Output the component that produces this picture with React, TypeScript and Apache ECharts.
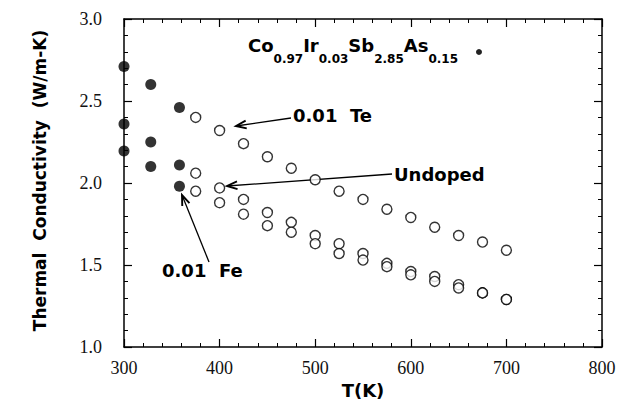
import React, { useEffect, useRef } from "react";
import * as echarts from "echarts";

// Temperatures (K)
const tempsFilled = [300, 328, 358];
const tempsOpen = [375, 400, 425, 450, 475, 500, 525, 550, 575, 600, 625, 650, 675, 700];

// Thermal conductivity (W/m-K) – filled symbols (low-T measurement)
const teFilled = [2.71, 2.6, 2.46];
const undopedFilled = [2.36, 2.25, 2.11];
const feFilled = [2.195, 2.1, 1.98];

// Thermal conductivity (W/m-K) – open symbols (high-T measurement)
const teOpen = [2.4, 2.32, 2.24, 2.16, 2.09, 2.02, 1.95, 1.9, 1.84, 1.79, 1.73, 1.68, 1.64, 1.59];
const undopedOpen = [2.06, 1.97, 1.9, 1.82, 1.76, 1.68, 1.63, 1.57, 1.51, 1.46, 1.43, 1.38, 1.33, 1.29];
const feOpen = [1.95, 1.88, 1.81, 1.74, 1.7, 1.63, 1.57, 1.53, 1.49, 1.44, 1.4, 1.36, 1.33, 1.29];

// Axis ranges / tick steps
const xRange = [300, 800];
const xStep = 100;
const yRange = [1.0, 3.0];
const yStep = 0.5;

const SANS = "DejaVu Sans";
const SERIF = "Liberation Serif";
const INK = "#000";

const zip = (xs: number[], ys: number[]) => xs.map((x, i) => [x, ys[i]]);

function arrow(x1: number, y1: number, x2: number, y2: number) {
  const ang = Math.atan2(y1 - y2, x1 - x2);
  const L = 11;
  const spread = 0.36;
  const p1 = [x2 + L * Math.cos(ang + spread), y2 + L * Math.sin(ang + spread)];
  const p2 = [x2 + L * Math.cos(ang - spread), y2 + L * Math.sin(ang - spread)];
  return [
    { type: "line", shape: { x1, y1, x2, y2 }, style: { stroke: INK, lineWidth: 1.3 } },
    {
      type: "polyline",
      shape: { points: [p1, [x2, y2], p2] },
      style: { stroke: INK, lineWidth: 1.9, fill: null },
    },
  ];
}

const axisLineStyle = { color: INK, width: 1.5 };

function baseX(position: "top" | "bottom", labels: boolean) {
  return {
    type: "value",
    position,
    min: xRange[0],
    max: xRange[1],
    interval: xStep,
    axisLine: { show: true, onZero: false, lineStyle: axisLineStyle },
    axisTick: { show: true, inside: true, length: 8, lineStyle: { color: INK, width: 1.2 } },
    minorTick: { show: true, splitNumber: 5, length: 4, lineStyle: { color: INK, width: 1 } },
    splitLine: { show: false },
    minorSplitLine: { show: false },
    axisLabel: {
      show: labels,
      margin: 12,
      fontFamily: SERIF,
      fontSize: 18,
      color: "#111",
    },
  };
}

function baseY(position: "left" | "right", labels: boolean) {
  return {
    type: "value",
    position,
    min: yRange[0],
    max: yRange[1],
    interval: yStep,
    axisLine: { show: true, onZero: false, lineStyle: axisLineStyle },
    axisTick: { show: true, inside: true, length: 8, lineStyle: { color: INK, width: 1.2 } },
    minorTick: { show: true, splitNumber: 5, length: 4, lineStyle: { color: INK, width: 1 } },
    splitLine: { show: false },
    minorSplitLine: { show: false },
    axisLabel: {
      show: labels,
      margin: 22,
      fontFamily: SERIF,
      fontSize: 18,
      color: "#111",
      formatter: (v: number) => v.toFixed(1),
    },
  };
}

const filledStyle = { color: INK };
const openStyle = { color: "#fff", borderColor: INK, borderWidth: 1.4 };

function scatter(name: string, xs: number[], ys: number[], filled: boolean) {
  return {
    type: "scatter",
    name,
    xAxisIndex: 0,
    yAxisIndex: 0,
    symbol: "circle",
    symbolSize: filled ? 11 : 10,
    itemStyle: filled ? filledStyle : openStyle,
    data: zip(xs, ys),
    z: filled ? 3 : 2,
  };
}

const annotationFont = { fontFamily: SANS, fontWeight: "bold", fontSize: 18, fill: INK };

const option = {
  animation: false,
  backgroundColor: "#fff",
  grid: { left: 124, right: 18, top: 19, bottom: 61, containLabel: false },
  xAxis: [
    {
      ...baseX("bottom", true),
      name: "T(K)",
      nameLocation: "middle",
      nameGap: 24,
      nameTextStyle: { fontFamily: SANS, fontWeight: "bold", fontSize: 18, color: INK },
    },
    baseX("top", false),
  ],
  yAxis: [
    {
      ...baseY("left", true),
      name: "Thermal  Conductivity  (W/m-K)",
      nameLocation: "middle",
      nameGap: 76,
      nameRotate: 90,
      nameTextStyle: {
        fontFamily: SANS,
        fontWeight: "bold",
        fontSize: 17,
        color: INK,
        padding: [0, 0, 0, 5],
      },
    },
    baseY("right", false),
  ],
  series: [
    scatter("0.01 Te (open)", tempsOpen, teOpen, false),
    scatter("Undoped (open)", tempsOpen, undopedOpen, false),
    scatter("0.01 Fe (open)", tempsOpen, feOpen, false),
    scatter("0.01 Te", tempsFilled, teFilled, true),
    scatter("Undoped", tempsFilled, undopedFilled, true),
    scatter("0.01 Fe", tempsFilled, feFilled, true),
  ],
  graphic: {
    elements: [
      {
        type: "text",
        x: 248,
        y: 36,
        z: 10,
        style: {
          text: "{m|Co}{s|0.97}{m|Ir}{s|0.03}{m|Sb}{s|2.85}{m|As}{s|0.15}",
          verticalAlign: "top",
          rich: {
            m: { fontFamily: SANS, fontWeight: "bold", fontSize: 18, fill: INK, verticalAlign: "top" },
            s: {
              fontFamily: SANS,
              fontWeight: "bold",
              fontSize: 12,
              fill: INK,
              verticalAlign: "bottom",
              lineHeight: 29,
            },
          },
        },
      },
      { type: "circle", shape: { cx: 479, cy: 52, r: 3 }, style: { fill: "#222" }, z: 10 },
      {
        type: "text",
        x: 293,
        y: 115,
        z: 10,
        style: { text: "0.01  Te", verticalAlign: "middle", ...annotationFont },
      },
      {
        type: "text",
        x: 394,
        y: 174,
        z: 10,
        style: { text: "Undoped", verticalAlign: "middle", ...annotationFont },
      },
      {
        type: "text",
        x: 162,
        y: 270,
        z: 10,
        style: { text: "0.01  Fe", verticalAlign: "middle", ...annotationFont },
      },
      ...arrow(291, 118, 236, 126),
      ...arrow(392, 174, 227, 186),
      ...arrow(209, 262, 182, 195),
    ],
  },
};

export default function App() {
  const ref = useRef<HTMLDivElement>(null);
  useEffect(() => {
    if (!ref.current) return;
    const chart = echarts.init(ref.current, null, { renderer: "svg" });
    chart.setOption(option as any);
    return () => chart.dispose();
  }, []);
  return (
    <div
      ref={ref}
      style={{ position: "fixed", left: 0, top: 0, width: 620, height: 408, background: "#fff" }}
    />
  );
}
